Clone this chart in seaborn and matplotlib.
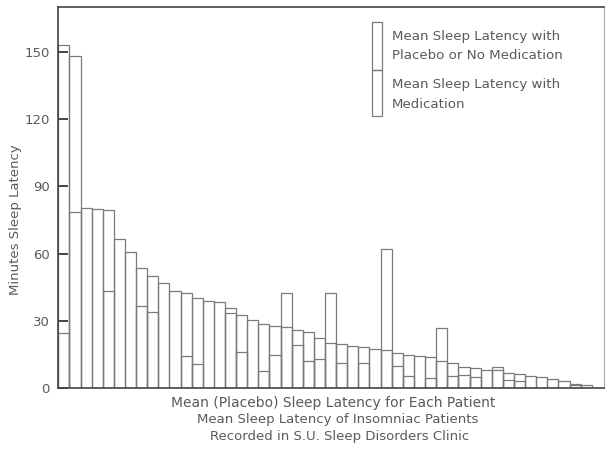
import numpy as np
import pandas as pd
import matplotlib
matplotlib.use("Agg")
import matplotlib.pyplot as plt
import seaborn as sns
from matplotlib.patches import Rectangle

# ---- data -------------------------------------------------------------
placebo = [153, 148, 80.5, 80, 79.5, 66.5, 60.5, 53.5, 50, 47,
           43.5, 42.2, 40, 38.8, 38.5, 35.6, 32.6, 30.4, 28.6, 27.5,
           27, 25.9, 25.1, 22.5, 20.2, 19.5, 18.7, 18.2, 17.6, 17,
           15.5, 14.7, 14.3, 14, 12.2, 11, 9.3, 8.8, 8, 8.2,
           6.8, 6.2, 5.4, 4.8, 4, 3.3, 1.8, 1.2]
medication = [24.7, 78.4, np.nan, np.nan, 43.3, np.nan, np.nan, 36.8, 33.9, np.nan,
              np.nan, 14.5, 10.7, np.nan, np.nan, 33.4, 16.2, np.nan, 7.5, 14.7,
              42.2, 19.0, 12.1, 12.9, 42.2, 11.3, np.nan, 11.3, np.nan, 61.9,
              9.8, 5.2, np.nan, 4.6, 26.6, 5.2, 5.9, 5.0, np.nan, 9.5,
              3.5, 3.0, np.nan, np.nan, np.nan, np.nan, 1.2, np.nan]
patients = [f"P{i+1}" for i in range(len(placebo))]
yticks = [0, 30, 60, 90, 120, 150]

legend_placebo = ["Mean Sleep Latency with", "Placebo or No Medication"]
legend_med = ["Mean Sleep Latency with", "Medication"]
xlabel = "Mean (Placebo) Sleep Latency for Each Patient"
ylabel = "Minutes Sleep Latency"
title = ["Mean Sleep Latency of Insomniac Patients",
         "Recorded in S.U. Sleep Disorders Clinic"]

# ---- style ------------------------------------------------------------
sns.set_theme(style="white")
plt.rcParams["font.family"] = ["DejaVu Sans"]
text_col = "#5a5a5a"
bar_col = "#7a7a7a"
spine_col = "#444444"

W, H = 610, 461
fig = plt.figure(figsize=(W / 100, H / 100), dpi=100)
# axes: left 58.3px, right 604px, top 7px, baseline 388px
ax = fig.add_axes([58.3 / W, (H - 388) / H, (604 - 58.3) / W, (388 - 7) / H])

df_p = pd.DataFrame({"patient": patients, "value": placebo})
df_m = pd.DataFrame({"patient": patients, "value": medication}).dropna()

sns.barplot(data=df_p, x="patient", y="value", order=patients, fill=False,
            color=bar_col, width=1.0, linewidth=0.9, errorbar=None, ax=ax)
sns.barplot(data=df_m, x="patient", y="value", order=patients, fill=False,
            color=bar_col, width=1.0, linewidth=0.9, errorbar=None, ax=ax)

ax.set_xlim(-0.5, 48.6)
ax.set_ylim(0, 170)
ax.set_xticks([])
ax.set_xlabel("")
ax.set_ylabel("")
ax.set_yticks(yticks)
ax.set_yticklabels([str(t) for t in yticks])
ax.tick_params(axis="y", direction="in", length=7, width=1.4, color=spine_col,
               labelsize=9.5, labelcolor=text_col, left=True, pad=6)
for s in ax.spines.values():
    s.set_color(spine_col)
    s.set_linewidth(1.2)
ax.spines["right"].set_color("#aaaaaa")
ax.spines["right"].set_linewidth(0.8)

fig.text(16 / W, 1 - 220 / H, ylabel, rotation=90, ha="center", va="center",
         fontsize=9.5, color=text_col)
fig.text(333 / W, 1 - 403 / H, xlabel, ha="center", va="center",
         fontsize=10, color=text_col)
fig.text(338 / W, 1 - 419 / H, title[0], ha="center", va="center",
         fontsize=9.5, color=text_col)
fig.text(340 / W, 1 - 436 / H, title[1], ha="center", va="center",
         fontsize=9.5, color=text_col)

# ---- legend (split box with texts, as in the original) -----------------
def ax_x(px):
    return (px - 58.3) / (604 - 58.3)

def ax_y(py):
    return (388 - py) / (388 - 7)

ax.add_patch(Rectangle((ax_x(372), ax_y(70)), ax_x(382) - ax_x(372), ax_y(22) - ax_y(70),
                       transform=ax.transAxes, fill=False, edgecolor=bar_col, linewidth=0.9))
ax.add_patch(Rectangle((ax_x(372), ax_y(116)), ax_x(382) - ax_x(372), ax_y(70) - ax_y(116),
                       transform=ax.transAxes, fill=False, edgecolor=bar_col, linewidth=0.9))
for py, txt in zip([36, 55], legend_placebo):
    ax.text(ax_x(392), ax_y(py), txt, transform=ax.transAxes, fontsize=9.6,
            color=text_col, va="center", ha="left")
for py, txt in zip([84, 104], legend_med):
    ax.text(ax_x(392), ax_y(py), txt, transform=ax.transAxes, fontsize=9.6,
            color=text_col, va="center", ha="left")

fig.savefig("out.png", dpi=100)
